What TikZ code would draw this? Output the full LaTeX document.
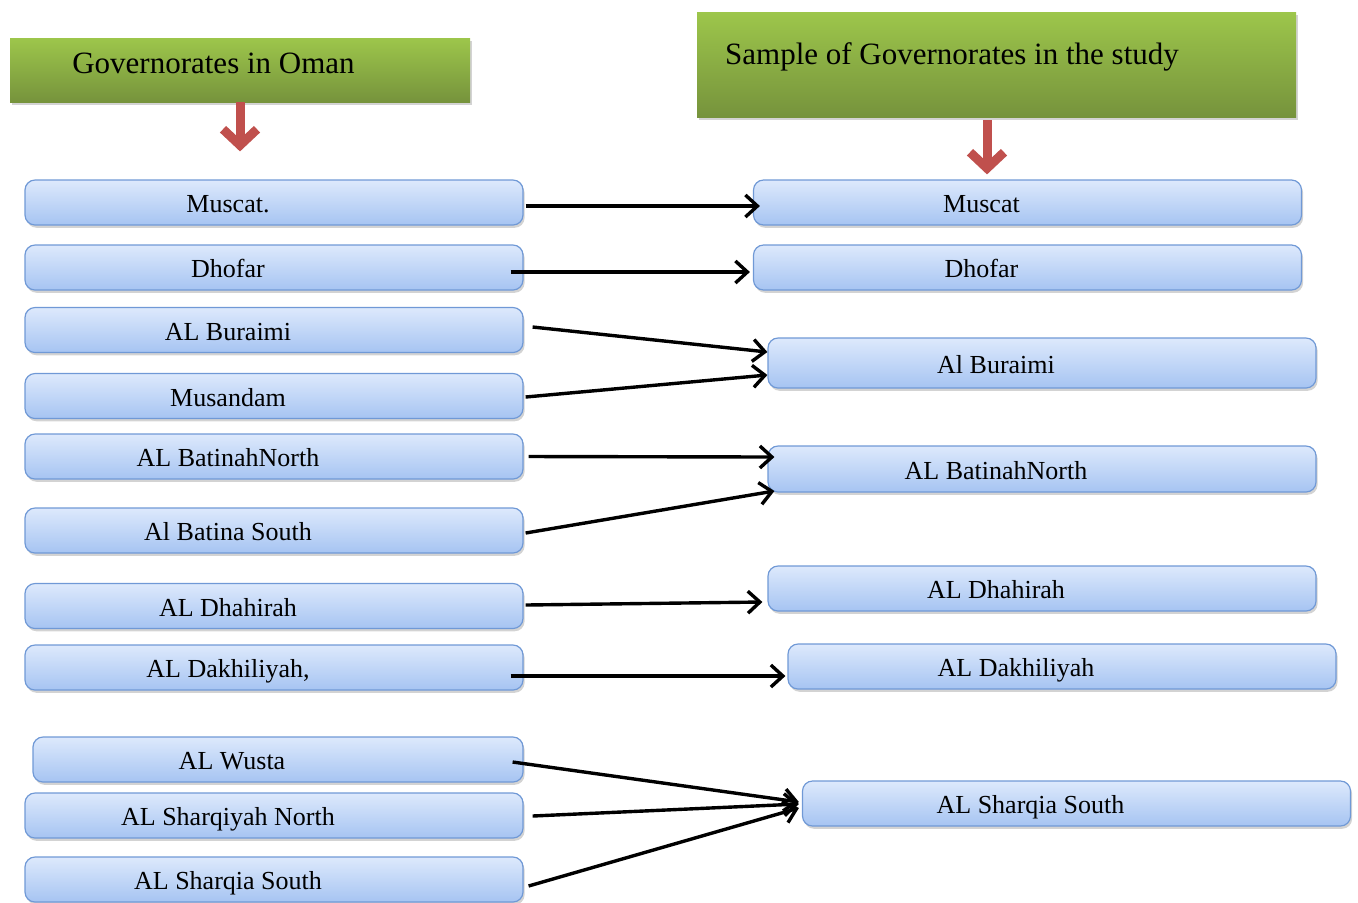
\documentclass[tikz,border=0pt]{standalone}
\usepackage{fontspec}
\setmainfont{Liberation Serif}
\usetikzlibrary{arrows.meta,shadows}
\definecolor{boxtop}{HTML}{DDE9FC}
\definecolor{boxbot}{HTML}{A6C4F2}
\definecolor{boxline}{HTML}{7099D6}
\definecolor{grtop}{HTML}{9DC64B}
\definecolor{grbot}{HTML}{76933C}
\definecolor{redarr}{HTML}{C0504D}
\tikzset{
  boxtext/.style={font=\fontsize{13}{15}\selectfont, text height=9pt, text depth=3pt,
    inner sep=0pt, xshift=-23pt, yshift=-2pt},
  titletext/.style={font=\fontsize{15.5}{18}\selectfont, text height=10.5pt, text depth=3.5pt,
    inner sep=0pt},
  govbox/.style={draw=boxline, line width=0.6pt, rounded corners=5pt,
    top color=boxtop, bottom color=boxbot, minimum height=22.5pt, inner sep=0pt,
    drop shadow={opacity=0.35, shadow xshift=0.8pt, shadow yshift=-1.4pt},
    label={[boxtext]center:#1}},
  headbox/.style={top color=grtop, bottom color=grbot, inner sep=0pt,
    drop shadow={opacity=0.35, shadow xshift=0.8pt, shadow yshift=-1.4pt}},
  link/.style={line width=1.7pt, -{Straight Barb[length=6pt,width=11pt]}},
  redlink/.style={redarr, line width=4.5pt, -{Straight Barb[length=8pt,width=17pt]}}
}
\begin{document}
\begin{tikzpicture}[x=0.5pt, y=-0.5pt]
\useasboundingbox (0,0) rectangle (1358,902);
% the two headings
\node[headbox, minimum width=230pt, minimum height=32pt,
  label={[titletext, xshift=-13.25pt, yshift=2pt]center:Governorates in Oman}] (tl) at (240,70) {};
\node[headbox, minimum width=299.5pt, minimum height=52.5pt,
  label={[titletext, xshift=-22.25pt, yshift=3.75pt]center:Sample of Governorates in the study}] (tr) at (996.5,64.5) {};
% all governorates, left column
\foreach \n/\x/\y/\w/\t in {l1/274/202.5/249/Muscat., l2/274/267.5/249/Dhofar,
  l3/274/330/249/AL Buraimi, l4/274/396/249/Musandam, l5/274/456.5/249/AL BatinahNorth,
  l6/274/530.5/249/Al Batina South, l7/274/606/249/AL Dhahirah,
  l8/274/667.5/249/{AL Dakhiliyah,}, l9/278/759.5/245/AL Wusta,
  l10/274/815.5/249/AL Sharqiyah North, l11/274/879.5/249/AL Sharqia South}
  \node[govbox=\t, minimum width=\w pt] (\n) at (\x,\y) {};
% sample, right column
\foreach \n/\x/\y/\h/\t in {r1/1027.5/202.5/22.5/Muscat, r2/1027.5/267.5/22.5/Dhofar,
  r3/1042/363/25/Al Buraimi, r4/1042/469/23/AL BatinahNorth,
  r5/1042/588.5/22.5/AL Dhahirah, r6/1062/666.5/22.5/AL Dakhiliyah,
  r7/1076.5/803.5/22.5/AL Sharqia South}
  \node[govbox=\t, minimum width=274pt, minimum height=\h pt] (\n) at (\x,\y) {};
% red arrows under the headings
\draw[redlink, shorten >=14pt] (tl.south) -- (tl.south |- l1.north);
\draw[redlink, shorten <=1.5pt, shorten >=2.5pt] ([xshift=-4.75pt]tr.south) -- ([xshift=-4.75pt]tr.south |- r1.north);
% links left -> right (from/xshift/yshift/to/xshift/yshift)
\foreach \a/\xa/\sa/\b/\xb/\sb in {l1/1/-1.75/r1/3.5/-1.75, l2/-6.5/-2.25/r2/-1.5/-2.25,
  l3/4.5/1.5/r3/0/5.5, l4/1/-0.5/r3/0/-6, l5/2.5/0/r4/3.5/6, l6/1/-1.25/r4/3.5/-11,
  l7/1/0.5/r5/-2.5/-6.75, l8/-6.5/-4.25/r6/-1/-4.75, l9/-5.5/-1.25/r7/-1.5/0.75,
  l10/4.5/-0.25/r7/-1.5/-0.25, l11/2.5/-3.25/r7/-1.5/-2.25}
  \draw[link] ([xshift=\xa pt, yshift=\sa pt]\a.east) -- ([xshift=\xb pt, yshift=\sb pt]\b.west);
\end{tikzpicture}
\end{document}
